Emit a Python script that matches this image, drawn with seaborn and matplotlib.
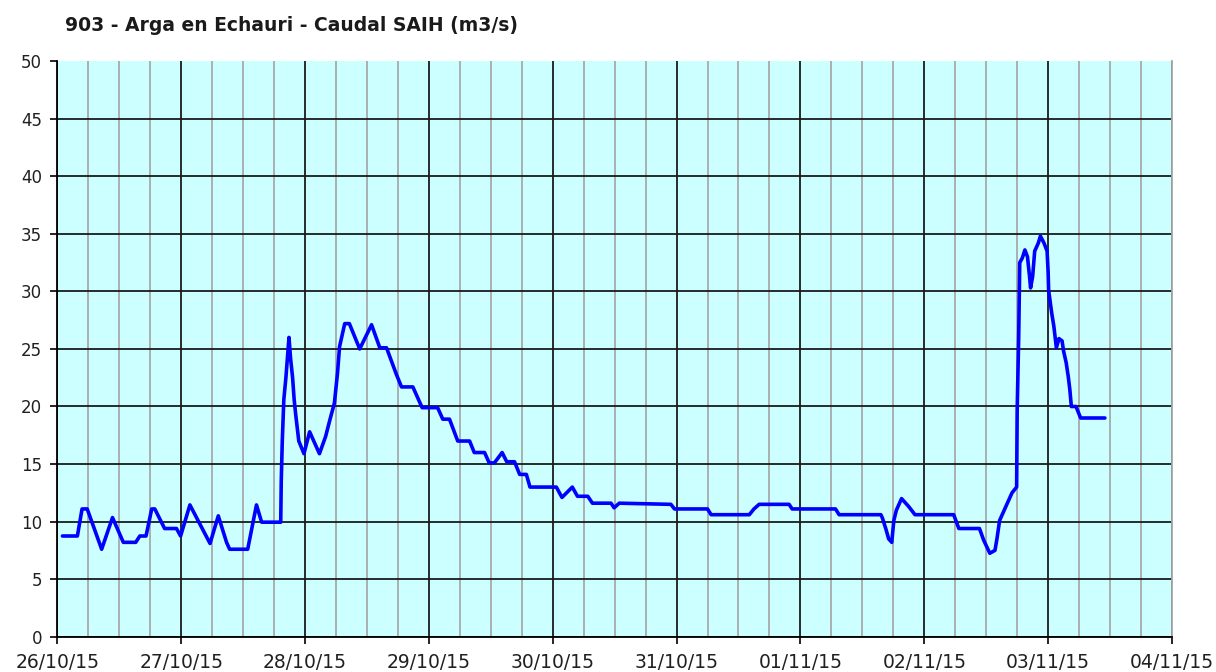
import pandas as pd
import matplotlib
matplotlib.use("Agg")
import matplotlib.pyplot as plt
import matplotlib.dates as mdates
import seaborn as sns

# ── Data ──────────────────────────────────────────────────────
start = "2015-10-26 00:00"
hours = [
    1.0, 3.9, 4.8, 5.8, 8.6, 10.7, 12.8, 15.2, 16.0, 17.2, 18.3, 18.9, 20.8, 23.1,
    23.9, 25.7, 29.6, 31.2, 32.8, 33.4, 36.9, 38.6, 39.6, 43.3, 43.4, 43.6, 43.9,
    44.3, 44.6, 44.9, 45.2, 45.6, 45.9, 46.2, 46.8, 47.8, 48.9, 50.8, 52.0, 52.8,
    53.7, 54.3, 54.7, 55.7, 56.6, 58.6, 60.9, 62.5, 63.8, 65.7, 66.7, 68.9, 70.7,
    73.7, 74.7, 76.0, 77.6, 79.9, 80.8, 82.8, 83.7, 84.7, 86.2, 87.1, 88.6, 89.6,
    90.9, 91.6, 96.7, 97.8, 99.8, 100.8, 102.8, 103.7, 107.3, 107.9, 108.9, 118.9,
    119.6, 126.0, 126.7, 134.1, 135.0, 136.0, 141.8, 142.4, 150.8, 151.5, 159.6,
    159.9, 160.6, 161.1, 161.7, 162.1, 162.6, 163.6, 165.0, 166.2, 173.7, 174.7,
    178.7, 179.5, 180.7, 181.7, 182.1, 182.6, 183.4, 184.4, 185.0, 185.9, 186.0,
    186.3, 186.5, 187.0, 187.5, 188.0, 188.4, 188.6, 189.0, 189.4, 190.1, 190.5,
    191.2, 191.8, 192.0, 192.1, 192.7, 193.1, 193.6, 194.1, 194.7, 195.0, 195.5,
    195.9, 196.2, 196.5, 197.4, 198.3, 203.0,
]
caudal = [
    8.75, 8.75, 11.1, 11.1, 7.6, 10.35, 8.2, 8.2, 8.75, 8.75, 11.1, 11.1, 9.4, 9.4,
    8.75, 11.45, 8.1, 10.5, 8.2, 7.6, 7.6, 11.45, 9.95, 9.95, 13.5, 17.0, 20.6,
    22.5, 24.2, 26.0, 24.2, 22.5, 20.6, 19.3, 17.0, 15.9, 17.8, 15.9, 17.4, 18.8,
    20.3, 22.9, 25.2, 27.2, 27.2, 25.0, 27.1, 25.1, 25.1, 22.8, 21.7, 21.7, 19.9,
    19.9, 18.9, 18.9, 17.0, 17.0, 16.0, 16.0, 15.1, 15.1, 16.0, 15.2, 15.2, 14.1,
    14.1, 13.0, 13.0, 12.1, 13.0, 12.2, 12.2, 11.6, 11.6, 11.2, 11.6, 11.5,
    11.1, 11.1, 10.6, 10.6, 11.1, 11.5, 11.5, 11.1, 11.1, 10.6, 10.6,
    10.3, 9.3, 8.5, 8.2, 10.1, 11.0, 12.0, 11.3, 10.6, 10.6, 9.4,
    9.4, 8.4, 7.25, 7.5, 8.55, 10.1, 10.9, 11.9, 12.5, 13.0, 19.6,
    26.1, 32.5, 32.9, 33.6, 33.0, 31.3, 30.3, 31.3, 33.5, 34.2, 34.8,
    34.2, 33.5, 31.7, 30.1, 28.1, 27.0, 25.1, 25.9, 25.7, 24.8, 23.8,
    22.6, 21.5, 20.0, 20.0, 19.0, 19.0,
]
title = "903 - Arga en Echauri - Caudal SAIH (m3/s)"
x_start, x_end = "2015-10-26", "2015-11-04"
y_ticks = list(range(0, 55, 5))

df = pd.DataFrame({
    "fecha": pd.Timestamp(start) + pd.to_timedelta(hours, unit="h"),
    "caudal": caudal,
})

# ── Plot ──────────────────────────────────────────────────────
sns.set_style("ticks")
plt.rcParams["font.family"] = ["DejaVu Sans"]

fig = plt.figure(figsize=(12.16, 6.72), dpi=100)
ax = fig.add_axes([0.0471, 0.0525, 0.9167, 0.8565])
ax.set_facecolor("#CCFFFF")

sns.lineplot(data=df, x="fecha", y="caudal", ax=ax, color="#0000FF",
             linewidth=2.6, estimator=None, sort=False, zorder=3)

ax.set_xlim(pd.Timestamp(x_start), pd.Timestamp(x_end))
ax.set_ylim(0, 50)
ax.set_yticks(y_ticks)

ax.xaxis.set_major_locator(mdates.DayLocator())
ax.xaxis.set_minor_locator(mdates.HourLocator(byhour=[6, 12, 18]))
ax.xaxis.set_major_formatter(mdates.DateFormatter("%d/%m/%y"))

ax.set_axisbelow(True)
ax.grid(which="minor", axis="x", color="#A8A8A8", linewidth=1.3)
ax.grid(which="major", axis="both", color="#1A1A1A", linewidth=1.3)
# no gridline along the top edge
ax.get_ygridlines()[-1].set_visible(False)

ax.tick_params(axis="both", which="major", direction="out", length=5,
               width=1.2, color="black", labelsize=12, labelcolor="#202020")
ax.tick_params(axis="x", which="major", labelsize=13.5, pad=7)
ax.tick_params(axis="x", which="minor", length=0)
ax.tick_params(axis="y", pad=6)

ax.set_xlabel("")
ax.set_ylabel("")

for side in ("left", "bottom"):
    ax.spines[side].set_color("black")
    ax.spines[side].set_linewidth(1.3)
ax.spines["top"].set_visible(False)
ax.spines["right"].set_color("#A8A8A8")
ax.spines["right"].set_linewidth(1.3)

fig.text(0.0535, 0.962, title, fontsize=13.5, fontweight="bold",
         color="#1A1A1A", ha="left", va="center")

fig.savefig("out.png", dpi=100)
